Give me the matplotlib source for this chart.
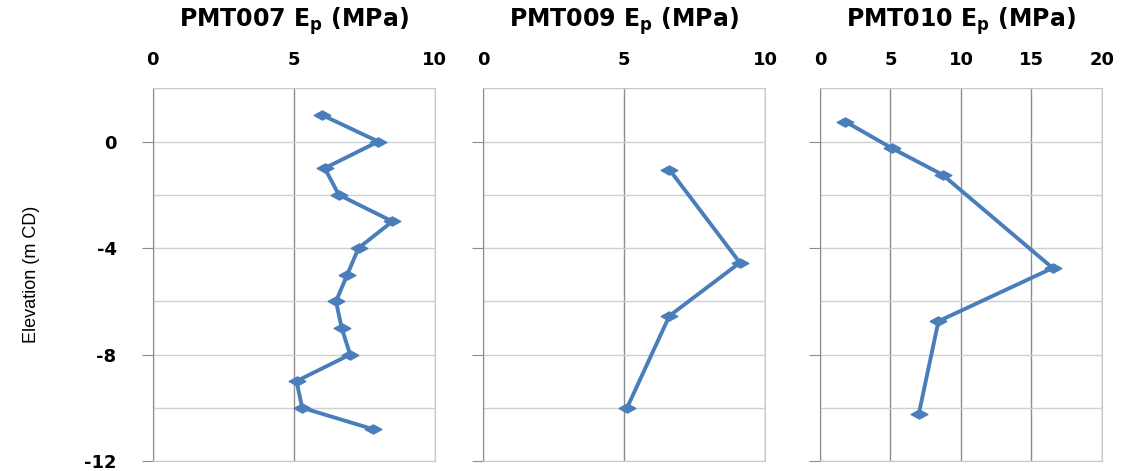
import matplotlib
matplotlib.use("Agg")
import matplotlib.pyplot as plt
from matplotlib.path import Path

plt.rcParams['axes.unicode_minus'] = False
plt.rcParams['font.family'] = ['DejaVu Sans']

# data: Ep (MPa) against elevation (m CD)
pmt007_ep = [6.0, 8.0, 6.1, 6.6, 8.5, 7.3, 6.9, 6.5, 6.7, 7.0, 5.1, 5.3, 7.8]
pmt007_el = [1.0, 0.0, -1.0, -2.0, -3.0, -4.0, -5.0, -6.0, -7.0, -8.0, -9.0, -10.0, -10.8]

pmt009_ep = [6.6, 9.1, 6.6, 5.1]
pmt009_el = [-1.05, -4.55, -6.55, -10.0]

pmt010_ep = [1.8, 5.1, 8.7, 16.5, 8.4, 7.0]
pmt010_el = [0.75, -0.25, -1.25, -4.75, -6.75, -10.25]

titles = ["PMT007 E$_\\mathregular{p}$ (MPa)", "PMT009 E$_\\mathregular{p}$ (MPa)",
          "PMT010 E$_\\mathregular{p}$ (MPa)"]
x_limits = [10, 10, 20]
x_ticks = [[0, 5, 10], [0, 5, 10], [0, 5, 10, 15, 20]]
y_ticks = [0, -4, -8, -12]

blue = '#4a7ebb'
# wide flat diamond like the Excel marker
diamond = Path([(-1, 0), (0, 0.55), (1, 0), (0, -0.55), (-1, 0)],
               [Path.MOVETO, Path.LINETO, Path.LINETO, Path.LINETO, Path.CLOSEPOLY])

fig = plt.figure(figsize=(11.27, 4.71), dpi=100)
lefts = [0.1355, 0.4288, 0.7276]
series = [(pmt007_ep, pmt007_el), (pmt009_ep, pmt009_el), (pmt010_ep, pmt010_el)]

for i in range(3):
    ax = fig.add_axes([lefts[i], 0.0212, 0.2502, 0.7913])
    xs, ys = series[i]
    ax.plot(xs, ys, color=blue, linewidth=2.8, marker=diamond, markersize=12,
            markeredgecolor=blue, markerfacecolor=blue, zorder=3, clip_on=False)

    ax.set_xlim(0, x_limits[i])
    ax.set_ylim(-12, 2)
    ax.xaxis.tick_top()
    ax.set_xticks(x_ticks[i])
    ax.set_yticks(y_ticks)
    ax.set_yticks([-10, -6, -2, 2], minor=True)
    ax.tick_params(axis='x', length=0, pad=14, labelsize=13)
    ax.tick_params(axis='y', which='major', length=8, color='#8c8c8c', pad=18, labelsize=13)
    ax.tick_params(axis='y', which='minor', length=0)
    for lab in ax.get_xticklabels() + ax.get_yticklabels():
        lab.set_fontweight('bold')
    if i > 0:
        ax.set_yticklabels([])

    ax.grid(True, axis='x', color='#8c8c8c', linewidth=1)
    ax.grid(True, axis='y', which='both', color='#d0d0d0', linewidth=1)
    ax.set_axisbelow(True)
    for side in ['top', 'bottom', 'right']:
        ax.spines[side].set_color('#c8c8c8')
    ax.spines['left'].set_color('#8c8c8c')

    ax.set_title(titles[i], fontsize=17, fontweight='bold', pad=44)

    if i == 0:
        ax.set_ylabel("Elevation (m CD)", family=['Liberation Sans', 'DejaVu Sans'],
                      fontsize=13)
        ax.yaxis.set_label_coords(-0.40, 0.5)

fig.savefig("out.png", dpi=100)
